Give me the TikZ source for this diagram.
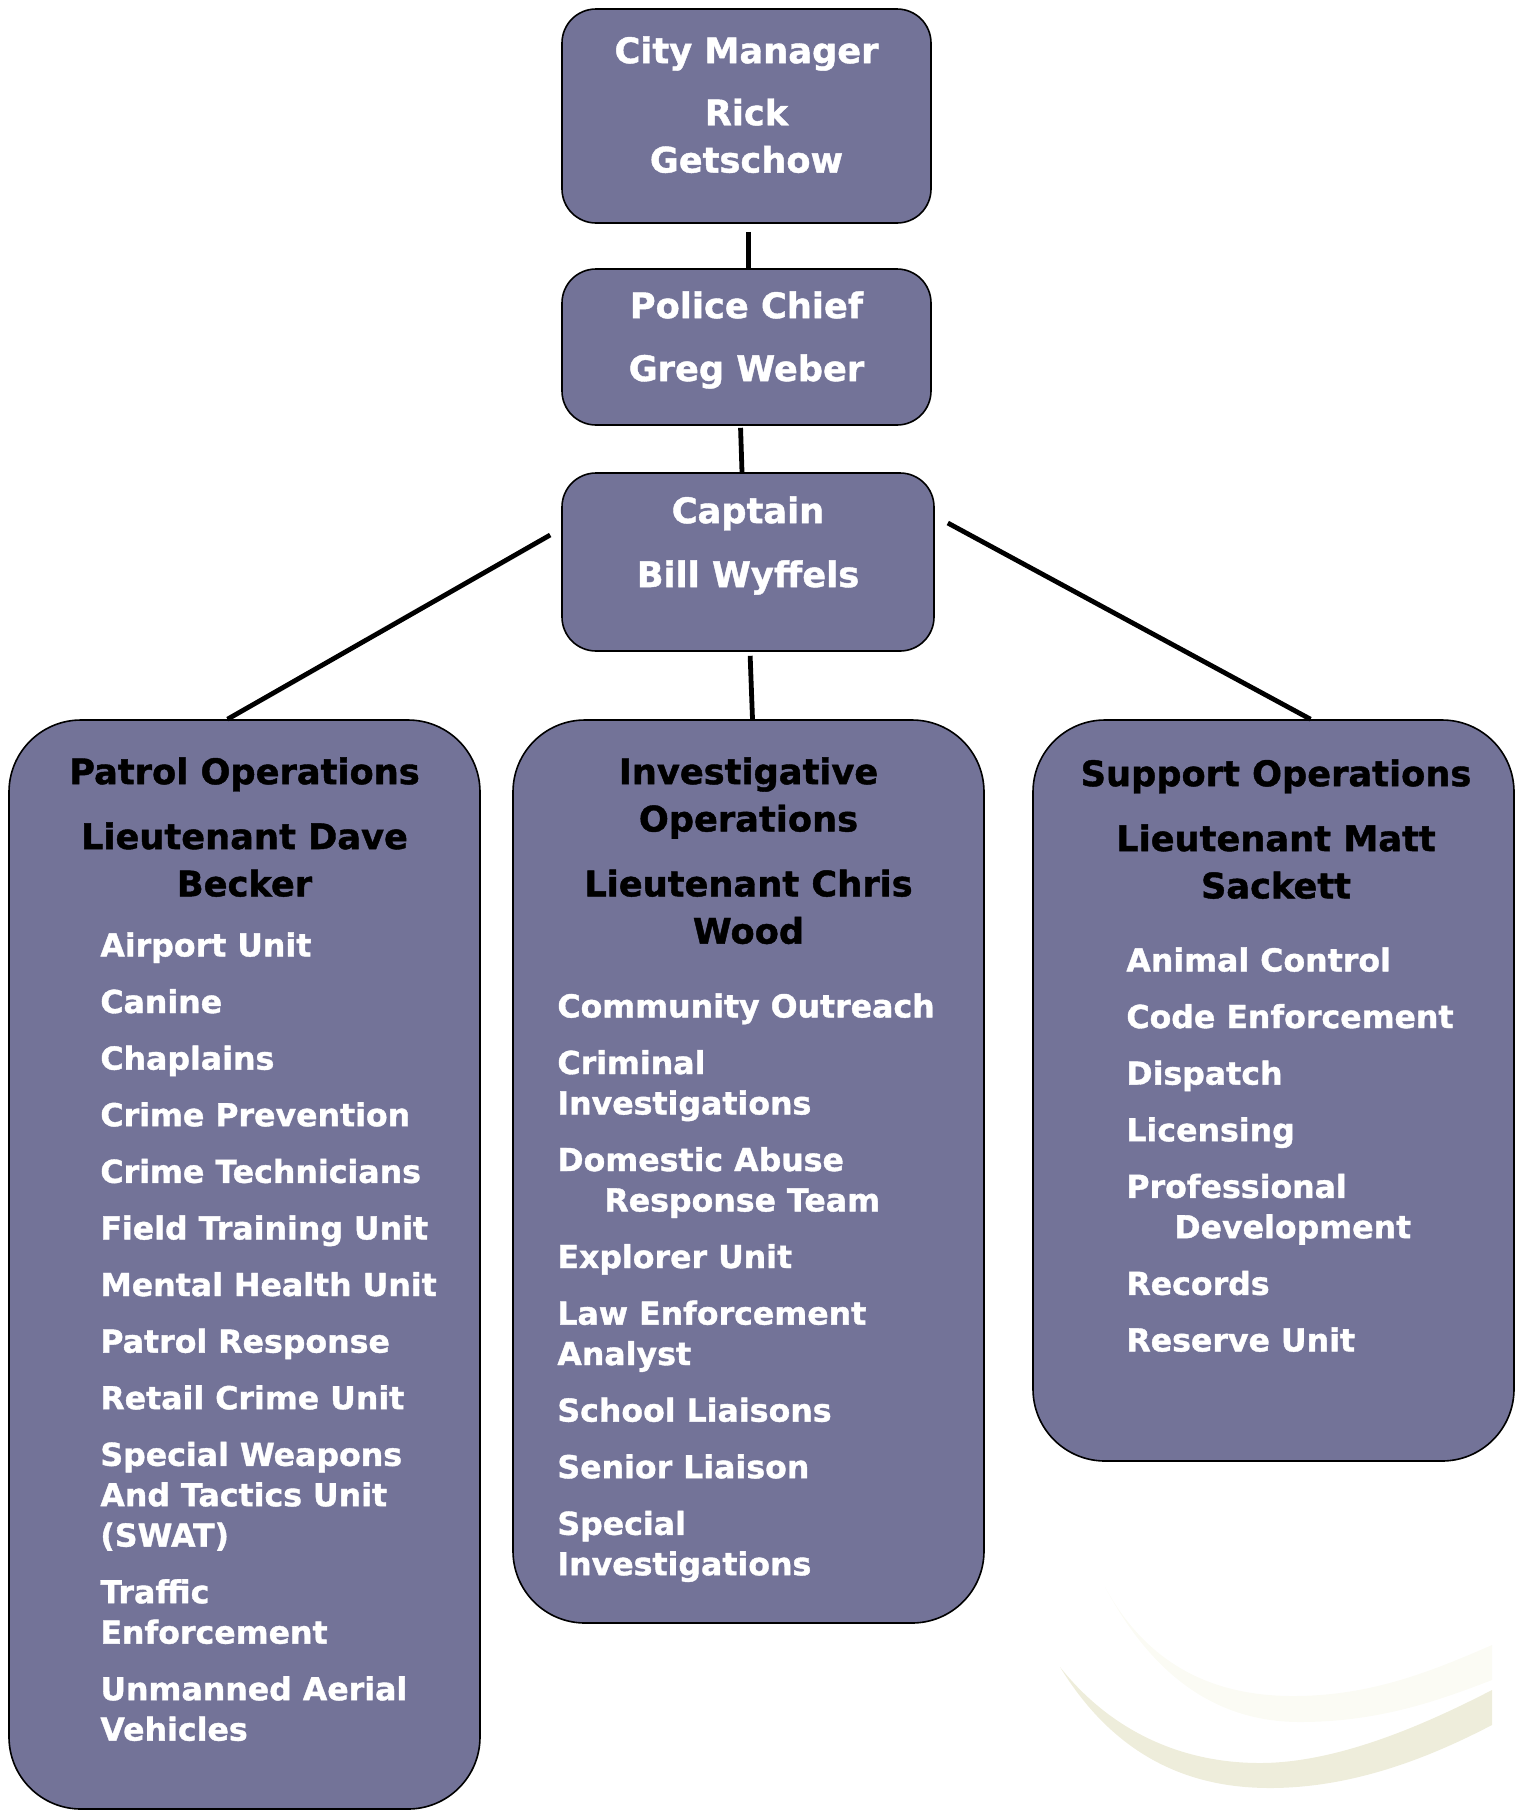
\documentclass[tikz,border=0pt]{standalone}
\usepackage{fontspec}
\setmainfont{DejaVu Sans}[BoldFeatures={FakeBold=1.2}]
\usepackage{tikz}
\definecolor{boxfill}{RGB}{115,115,152}
\definecolor{swoosh}{RGB}{238,237,219}
\definecolor{swooshlight}{RGB}{251,251,244}
\newcommand{\unitgap}{8.1pt}

\begin{document}
\begin{tikzpicture}[x=0.5pt, y=-0.5pt,
  every node/.style={inner sep=0pt, font=\bfseries},
  topbox/.style={draw, fill=boxfill, line width=0.8pt, rounded corners=17pt},
  opsbox/.style={draw, fill=boxfill, line width=0.8pt, rounded corners=36pt},
  boxtitle/.style={anchor=north, align=center, text=white, font=\bfseries\fontsize{17.6}{23.65}\selectfont},
  opshead/.style={anchor=north, align=center, text=black, font=\bfseries\fontsize{17.6}{23.65}\selectfont},
  units/.style={anchor=north west, align=left, text=white, font=\bfseries\fontsize{15.8}{20.2}\selectfont},
  orgline/.style={line width=2.4pt}]
  \useasboundingbox (0,0) rectangle (1515,1811);

  % background swoosh
  \fill[swooshlight] (1105,1587) .. controls (1160,1690) and (1230,1722) .. (1300,1722)
    .. controls (1380,1722) and (1440,1700) .. (1492,1680) -- (1492,1645)
    .. controls (1430,1672) and (1370,1696) .. (1293,1696)
    .. controls (1220,1696) and (1150,1670) .. cycle;
  \fill[swoosh] (1060,1667) .. controls (1120,1765) and (1200,1788) .. (1270,1788)
    .. controls (1360,1788) and (1440,1752) .. (1492,1725) -- (1492,1690)
    .. controls (1430,1722) and (1340,1763) .. (1260,1763)
    .. controls (1180,1763) and (1110,1730) .. cycle;

  % top of the chart
  \node[topbox, minimum width=184.5pt, minimum height=107pt] (cm) at (746.5,116) {};
  \node[boxtitle] (cmtext) at (746.5,36) {City Manager\\[7.4pt] Rick\\ Getschow};
  \node[topbox, minimum width=184.5pt, minimum height=78pt] (pc) at (746.5,347) {};
  \node[boxtitle] (pctext) at (746.5,291) {Police Chief\\[7.8pt] Greg Weber};
  \node[topbox, minimum width=186pt, minimum height=89pt] (cap) at (748,562) {};
  \node[boxtitle] (captext) at (748,496) {Captain\\[8.3pt] Bill Wyffels};

  % divisions
  \node[opsbox, minimum width=235.5pt, minimum height=544.5pt] (patrol) at (244.5,1264.5) {};
  \node[opshead] (patrolhead) at (244.5,757) {Patrol Operations\\[8.8pt] Lieutenant Dave\\ Becker};
  \node[units] (patrolunits) at (100,932) {Airport Unit\\[\unitgap] Canine\\[\unitgap] Chaplains\\[\unitgap]
    Crime Prevention\\[\unitgap] Crime Technicians\\[\unitgap] Field Training Unit\\[\unitgap]
    Mental Health Unit\\[\unitgap] Patrol Response\\[\unitgap] Retail Crime Unit\\[\unitgap]
    Special Weapons\\ And Tactics Unit\\ (SWAT)\\[\unitgap] Traffic\\ Enforcement\\[\unitgap]
    Unmanned Aerial\\ Vehicles};

  \node[opsbox, minimum width=235.5pt, minimum height=451.5pt] (invest) at (748.5,1171.5) {};
  \node[opshead] (investhead) at (748.5,757) {Investigative\\ Operations\\[8.8pt] Lieutenant Chris\\ Wood};
  \node[units] (investunits) at (557,993) {Community Outreach\\[\unitgap] Criminal\\ Investigations\\[\unitgap]
    Domestic Abuse\\ \hspace*{23.5pt}Response Team\\[\unitgap] Explorer Unit\\[\unitgap]
    Law Enforcement\\ Analyst\\[\unitgap] School Liaisons\\[\unitgap] Senior Liaison\\[\unitgap]
    Special\\ Investigations};

  \node[opsbox, minimum width=240.5pt, minimum height=370.5pt] (support) at (1273.5,1090.5) {};
  \node[opshead] (supporthead) at (1276,759) {Support Operations\\[8.8pt] Lieutenant Matt\\ Sackett};
  \node[units] (supportunits) at (1126,947) {Animal Control\\[\unitgap] Code Enforcement\\[\unitgap]
    Dispatch\\[\unitgap] Licensing\\[\unitgap] Professional\\ \hspace*{24pt}Development\\[\unitgap]
    Records\\[\unitgap] Reserve Unit};

  % connectors
  \draw[orgline, shorten <=4pt] ([xshift=1pt]cm.south) -- ([xshift=1pt]pc.north);
  \draw[orgline, shorten <=1pt] ([xshift=-3pt]pc.south) -- ([xshift=-3pt]cap.north);
  \draw[orgline] ([shift={(-11,-27)}]cap.west) -- ([xshift=-8.5pt]patrol.north);
  \draw[orgline, shorten <=2pt] ([xshift=1pt]cap.south) -- ([xshift=2pt]invest.north);
  \draw[orgline] ([shift={(13,-39)}]cap.east) -- ([xshift=18.5pt]support.north);
\end{tikzpicture}
\end{document}
